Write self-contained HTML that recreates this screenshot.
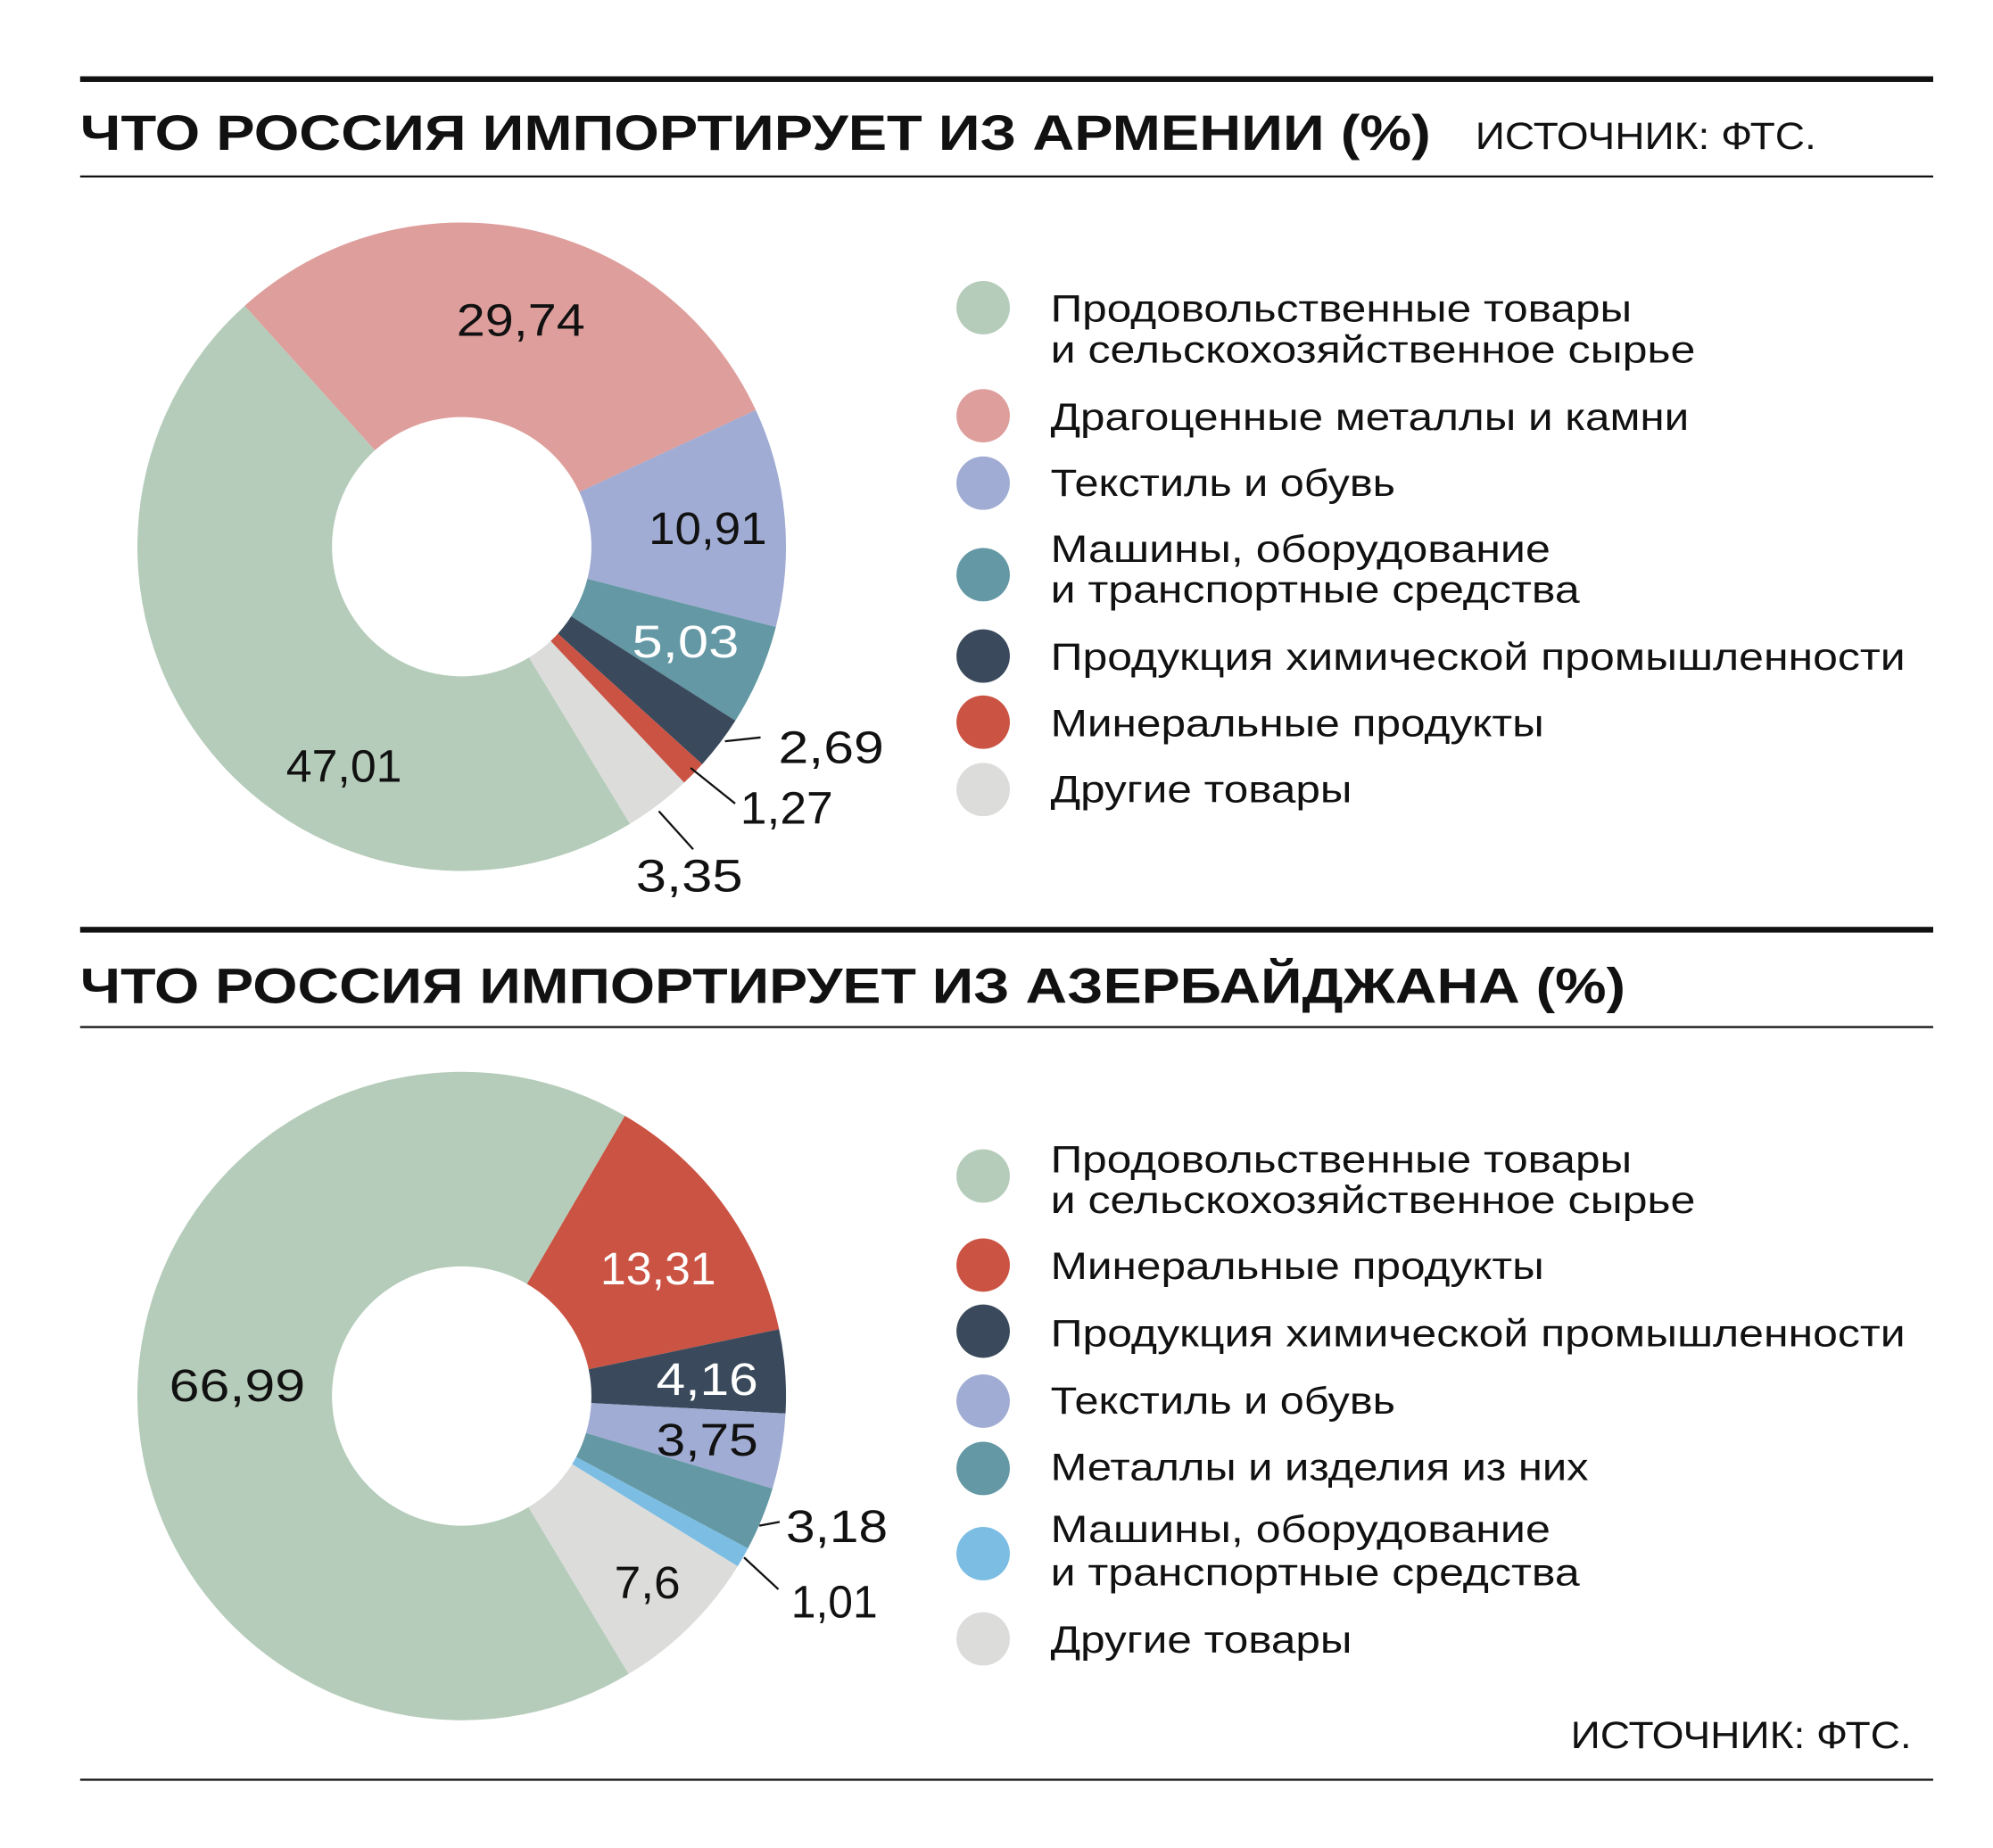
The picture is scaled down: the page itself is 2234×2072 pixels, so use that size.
<!DOCTYPE html>
<html><head><meta charset="utf-8"><style>
html,body{margin:0;padding:0;background:#fff}
svg{display:block}
text{font-family:"Liberation Sans","DejaVu Sans",sans-serif;fill:#111}
.t{font-weight:bold;font-size:39px}
.l{font-size:30px}
.v{font-size:36px}
</style></head><body>
<svg id="s" width="2234" height="2072" viewBox="0 0 1567 1453.5" preserveAspectRatio="none" xmlns="http://www.w3.org/2000/svg">
<rect width="1567" height="1454" fill="#fff"/>
<rect x="63" y="60" width="1457" height="4.5" fill="#111"/>
<text class="t" x="63" y="118" textLength="1062" lengthAdjust="spacingAndGlyphs">ЧТО РОССИЯ ИМПОРТИРУЕТ ИЗ АРМЕНИИ (%)</text>
<text class="l" x="1160" y="117" textLength="268" lengthAdjust="spacingAndGlyphs">ИСТОЧНИК: ФТС.</text>
<rect x="63" y="138" width="1457" height="1.6" fill="#111"/>
<g id="d1"></g>
<text class="v" x="359" y="264" textLength="101" lengthAdjust="spacingAndGlyphs">29,74</text>
<text class="v" x="510" y="428" textLength="93" lengthAdjust="spacingAndGlyphs">10,91</text>
<text class="v" x="497" y="517" textLength="84" lengthAdjust="spacingAndGlyphs" style="fill:#fff">5,03</text>
<text class="v" x="612" y="600" textLength="83" lengthAdjust="spacingAndGlyphs">2,69</text>
<text class="v" x="582" y="648" textLength="73" lengthAdjust="spacingAndGlyphs">1,27</text>
<text class="v" x="500" y="701" textLength="84" lengthAdjust="spacingAndGlyphs">3,35</text>
<text class="v" x="225" y="615" textLength="91" lengthAdjust="spacingAndGlyphs">47,01</text>
<g stroke="#111" stroke-width="1.6">
<line x1="570" y1="583" x2="598" y2="580"/>
<line x1="543" y1="604" x2="578" y2="632"/>
<line x1="518" y1="638" x2="545" y2="668"/>
</g>
<g class="lg">
<circle cx="773" cy="242" r="21" fill="#b5ccba"/>
<text class="l" x="826" y="253" textLength="457" lengthAdjust="spacingAndGlyphs">Продовольственные товары</text>
<text class="l" x="826" y="285" textLength="507" lengthAdjust="spacingAndGlyphs">и сельскохозяйственное сырье</text>
<circle cx="773" cy="327" r="21" fill="#de9e9c"/>
<text class="l" x="826" y="338" textLength="502" lengthAdjust="spacingAndGlyphs">Драгоценные металлы и камни</text>
<circle cx="773" cy="380" r="21" fill="#a0acd3"/>
<text class="l" x="826" y="390" textLength="271" lengthAdjust="spacingAndGlyphs">Текстиль и обувь</text>
<circle cx="773" cy="452" r="21" fill="#6398a4"/>
<text class="l" x="826" y="442" textLength="393" lengthAdjust="spacingAndGlyphs">Машины, оборудование</text>
<text class="l" x="826" y="474" textLength="416" lengthAdjust="spacingAndGlyphs">и транспортные средства</text>
<circle cx="773" cy="516" r="21" fill="#3a4a5c"/>
<text class="l" x="826" y="527" textLength="672" lengthAdjust="spacingAndGlyphs">Продукция химической промышленности</text>
<circle cx="773" cy="568" r="21" fill="#cb5343"/>
<text class="l" x="826" y="579" textLength="388" lengthAdjust="spacingAndGlyphs">Минеральные продукты</text>
<circle cx="773" cy="621" r="21" fill="#dcdcdb"/>
<text class="l" x="826" y="631" textLength="237" lengthAdjust="spacingAndGlyphs">Другие товары</text>
</g>

<rect x="63" y="729" width="1457" height="4.5" fill="#111"/>
<text class="t" x="63" y="789" textLength="1215" lengthAdjust="spacingAndGlyphs">ЧТО РОССИЯ ИМПОРТИРУЕТ ИЗ АЗЕРБАЙДЖАНА (%)</text>
<rect x="63" y="807" width="1457" height="1.6" fill="#111"/>
<g id="d2"></g>
<text class="v" x="472" y="1010" textLength="91" lengthAdjust="spacingAndGlyphs" style="fill:#fff">13,31</text>
<text class="v" x="516" y="1097" textLength="80" lengthAdjust="spacingAndGlyphs" style="fill:#fff">4,16</text>
<text class="v" x="516" y="1145" textLength="80" lengthAdjust="spacingAndGlyphs">3,75</text>
<text class="v" x="618" y="1213" textLength="80" lengthAdjust="spacingAndGlyphs">3,18</text>
<text class="v" x="622" y="1272" textLength="68" lengthAdjust="spacingAndGlyphs">1,01</text>
<text class="v" x="483" y="1257" textLength="52" lengthAdjust="spacingAndGlyphs">7,6</text>
<text class="v" x="133" y="1102" textLength="107" lengthAdjust="spacingAndGlyphs">66,99</text>
<g stroke="#111" stroke-width="1.6">
<line x1="597" y1="1200" x2="613" y2="1197"/>
<line x1="585" y1="1225" x2="612" y2="1250"/>
</g>
<circle cx="773" cy="925" r="21" fill="#b5ccba"/>
<text class="l" x="826" y="922" textLength="457" lengthAdjust="spacingAndGlyphs">Продовольственные товары</text>
<text class="l" x="826" y="954" textLength="507" lengthAdjust="spacingAndGlyphs">и сельскохозяйственное сырье</text>
<circle cx="773" cy="995" r="21" fill="#cb5343"/>
<text class="l" x="826" y="1006" textLength="388" lengthAdjust="spacingAndGlyphs">Минеральные продукты</text>
<circle cx="773" cy="1047" r="21" fill="#3a4a5c"/>
<text class="l" x="826" y="1059" textLength="672" lengthAdjust="spacingAndGlyphs">Продукция химической промышленности</text>
<circle cx="773" cy="1102" r="21" fill="#a0acd3"/>
<text class="l" x="826" y="1112" textLength="271" lengthAdjust="spacingAndGlyphs">Текстиль и обувь</text>
<circle cx="773" cy="1155" r="21" fill="#6398a4"/>
<text class="l" x="826" y="1164" textLength="423" lengthAdjust="spacingAndGlyphs">Металлы и изделия из них</text>
<circle cx="773" cy="1222" r="21" fill="#7bbde3"/>
<text class="l" x="826" y="1213" textLength="393" lengthAdjust="spacingAndGlyphs">Машины, оборудование</text>
<text class="l" x="826" y="1247" textLength="416" lengthAdjust="spacingAndGlyphs">и транспортные средства</text>
<circle cx="773" cy="1289" r="21" fill="#dcdcdb"/>
<text class="l" x="826" y="1300" textLength="237" lengthAdjust="spacingAndGlyphs">Другие товары</text>
<text class="l" x="1235" y="1375" textLength="268" lengthAdjust="spacingAndGlyphs">ИСТОЧНИК: ФТС.</text>
<rect x="63" y="1399" width="1457" height="1.6" fill="#111"/>
</svg>
<script>
function donut(id,cx,cy,R,r,start,data){
  var g=document.getElementById(id),a=start,h='';
  function p(rad,ang){var t=ang*Math.PI/180;return (cx+rad*Math.sin(t)).toFixed(2)+' '+(cy-rad*Math.cos(t)).toFixed(2);}
  data.forEach(function(d){
    var b=a+d[0]*3.6,lg=(b-a)>180?1:0;
    h+='<path fill="'+d[1]+'" d="M'+p(R,a)+' A'+R+' '+R+' 0 '+lg+' 1 '+p(R,b)+' L'+p(r,b)+' A'+r+' '+r+' 0 '+lg+' 0 '+p(r,a)+' Z"/>';
    a=b;
  });
  g.innerHTML=h;
}
donut('d1',363,430,255,102,-42,[[29.74,'#de9e9c'],[10.91,'#a0acd3'],[5.03,'#6398a4'],[2.69,'#3a4a5c'],[1.27,'#cb5343'],[3.35,'#dcdcdb'],[47.01,'#b5ccba']]);
donut('d2',363,1098,255,102,30.2,[[13.31,'#cb5343'],[4.16,'#3a4a5c'],[3.75,'#a0acd3'],[3.18,'#6398a4'],[1.01,'#7bbde3'],[7.6,'#dcdcdb'],[66.99,'#b5ccba']]);
</script>
</body></html>
